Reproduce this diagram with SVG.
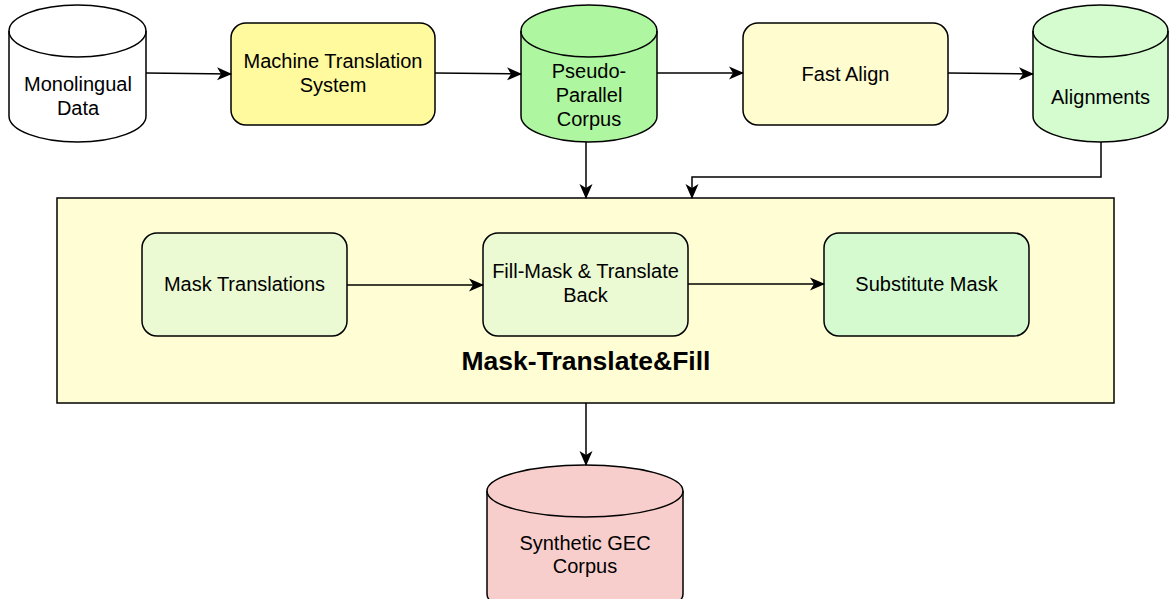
<svg xmlns="http://www.w3.org/2000/svg" width="1169" height="599" viewBox="0 0 1169 599">
  <defs>
    <marker id="arrow" markerUnits="userSpaceOnUse" markerWidth="16" markerHeight="14" refX="14" refY="7" orient="auto">
      <path d="M0,0.5 L15,7 L0,13.5 L4,7 Z" fill="#000"/>
    </marker>
  </defs>
  <style>
    .shape { stroke: #000; stroke-width: 1.5; }
    .label { font-family: "Liberation Sans", Arial, Helvetica, sans-serif; font-size: 20px; fill: #000; text-anchor: middle; }
    .title { font-family: "Liberation Sans", Arial, Helvetica, sans-serif; font-size: 26.5px; font-weight: bold; fill: #000; text-anchor: middle; }
    .edge { fill: none; stroke: #000; stroke-width: 1.5; marker-end: url(#arrow); }
  </style>

  <rect width="1169" height="599" fill="#fff"/>

  <!-- top row -->
  <g id="monolingual-data">
    <path class="shape" fill="#fff" d="M9,31 A68.5,26 0 0 1 146,31 V116 A68.5,26 0 0 1 9,116 Z"/>
    <path class="shape" fill="none" d="M9,31 A68.5,26 0 0 0 146,31"/>
    <text class="label" x="78" y="91">Monolingual</text>
    <text class="label" x="78" y="115">Data</text>
  </g>

  <g id="machine-translation">
    <rect class="shape" fill="#FFFA9E" x="231" y="23" width="204" height="102" rx="15"/>
    <text class="label" x="333" y="68">Machine Translation</text>
    <text class="label" x="333" y="92">System</text>
  </g>

  <g id="pseudo-parallel-corpus">
    <path class="shape" fill="#AEF7A0" d="M521,31 A68,26 0 0 1 657,31 V116 A68,26 0 0 1 521,116 Z"/>
    <path class="shape" fill="none" d="M521,31 A68,26 0 0 0 657,31"/>
    <text class="label" x="589" y="78">Pseudo-</text>
    <text class="label" x="589" y="102">Parallel</text>
    <text class="label" x="589" y="126">Corpus</text>
  </g>

  <g id="fast-align">
    <rect class="shape" fill="#FFFCD0" x="743" y="23" width="205" height="102" rx="15"/>
    <text class="label" x="845.5" y="81">Fast Align</text>
  </g>

  <g id="alignments">
    <path class="shape" fill="#D4FCCF" d="M1033,31 A67.5,26 0 0 1 1168,31 V116 A67.5,26 0 0 1 1033,116 Z"/>
    <path class="shape" fill="none" d="M1033,31 A67.5,26 0 0 0 1168,31"/>
    <text class="label" x="1100.5" y="104">Alignments</text>
  </g>

  <!-- container -->
  <g id="mask-translate-fill">
    <rect class="shape" fill="#FFFDD4" x="57" y="198" width="1057" height="205"/>
    <text class="title" x="586" y="370">Mask-Translate&amp;Fill</text>
  </g>

  <g id="mask-translations">
    <rect class="shape" fill="#EBFAD3" x="142" y="233" width="205" height="103" rx="15"/>
    <text class="label" x="244.5" y="291">Mask Translations</text>
  </g>

  <g id="fill-mask-translate-back">
    <rect class="shape" fill="#EBFAD3" x="483" y="233" width="205" height="103" rx="15"/>
    <text class="label" x="585.5" y="278">Fill-Mask &amp; Translate</text>
    <text class="label" x="585.5" y="302">Back</text>
  </g>

  <g id="substitute-mask">
    <rect class="shape" fill="#D5FAD0" x="824" y="233" width="205" height="103" rx="15"/>
    <text class="label" x="926.5" y="291">Substitute Mask</text>
  </g>

  <g id="synthetic-gec-corpus">
    <path class="shape" fill="#F8CECC" d="M487,491 A98,26 0 0 1 683,491 V594 A98,26 0 0 1 487,594 Z"/>
    <path class="shape" fill="none" d="M487,491 A98,26 0 0 0 683,491"/>
    <text class="label" x="585" y="550">Synthetic GEC</text>
    <text class="label" x="585" y="573">Corpus</text>
  </g>

  <!-- connectors -->
  <g id="connectors">
    <path class="edge" d="M146,73 L231,74"/>
    <path class="edge" d="M435,73 L521,74"/>
    <path class="edge" d="M657,73 L743,73"/>
    <path class="edge" d="M948,73 L1033,74"/>
    <path class="edge" d="M586,142 L586,198"/>
    <path class="edge" d="M1101,142 L1101,177 L692,177 L692,198"/>
    <path class="edge" d="M347,285 L483,285"/>
    <path class="edge" d="M688,284 L824,284"/>
    <path class="edge" d="M586,403 L586,465"/>
  </g>
</svg>
